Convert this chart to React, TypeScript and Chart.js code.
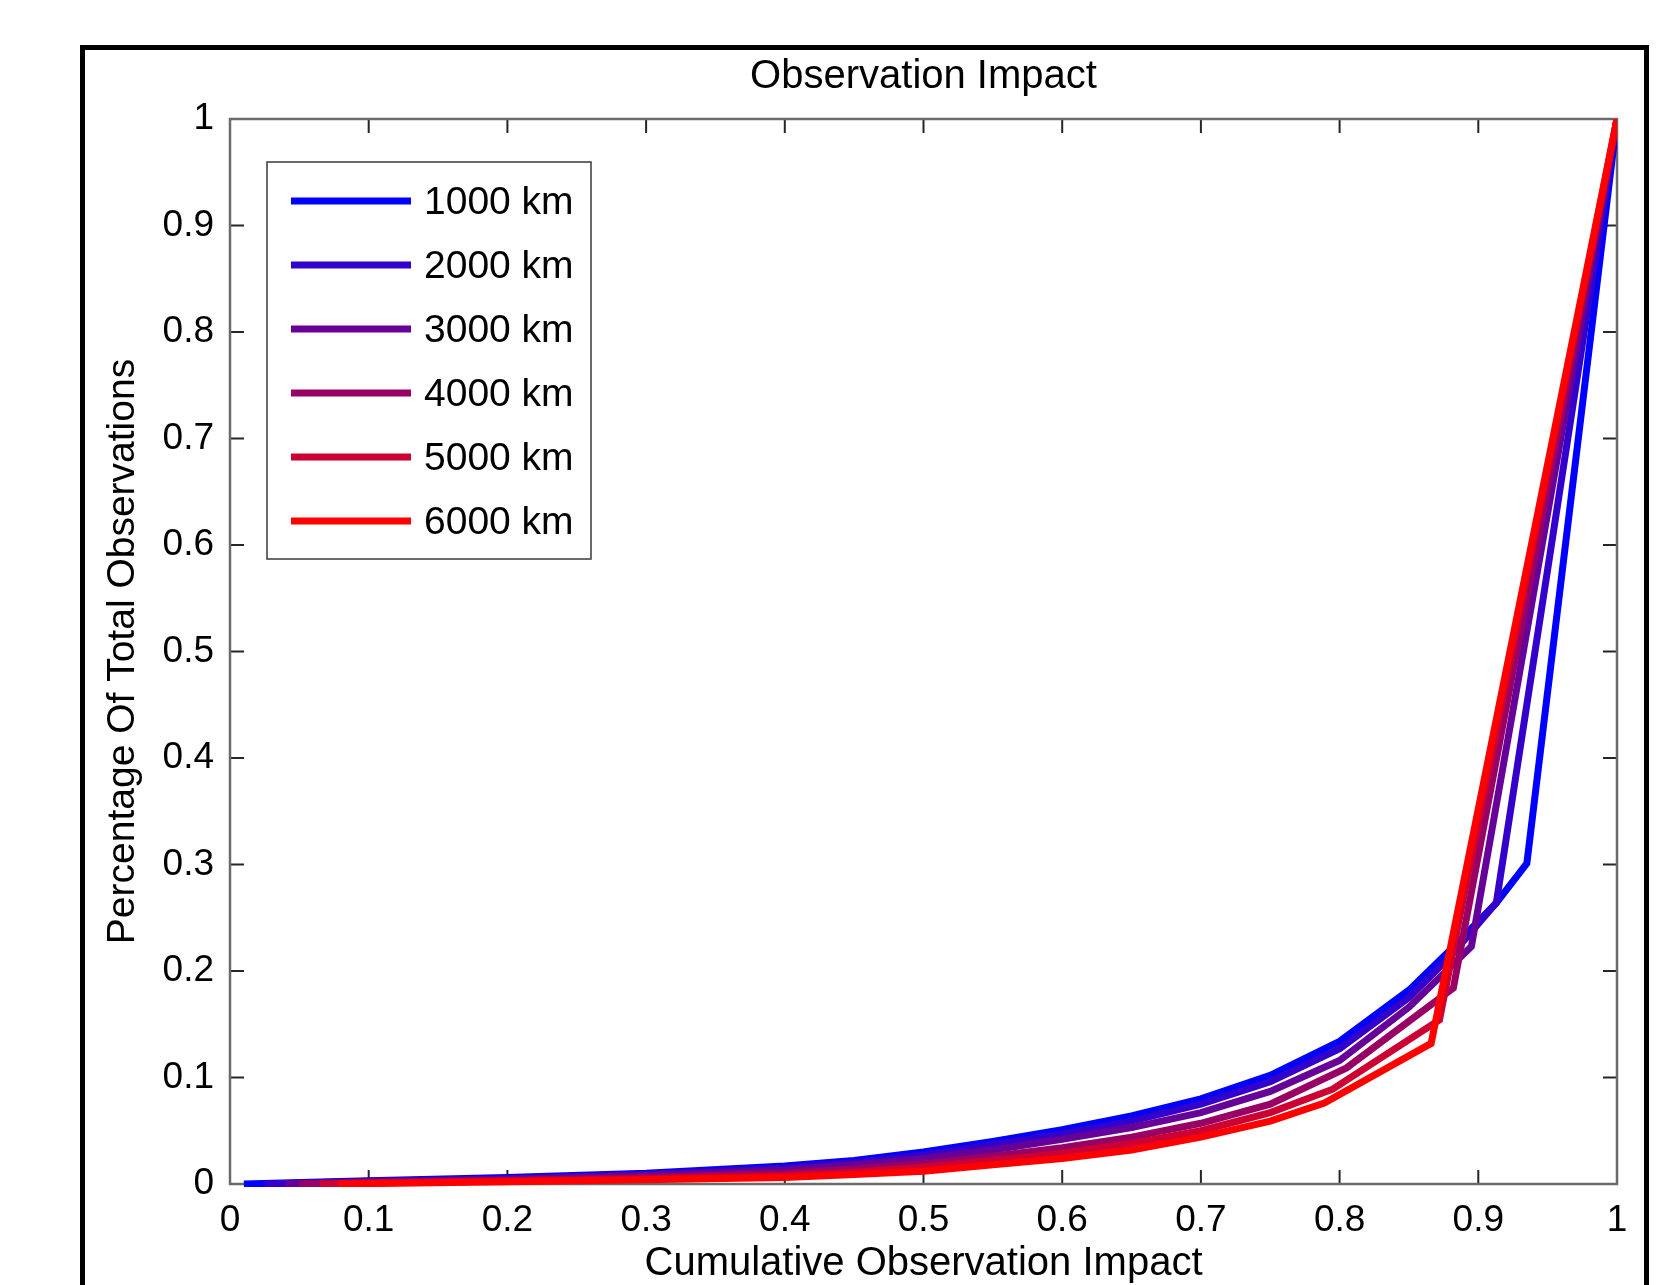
import React, { useEffect, useRef } from 'react';
import { Chart, registerables } from 'chart.js';

Chart.register(...registerables);

const seriesLabels = ['1000 km', '2000 km', '3000 km', '4000 km', '5000 km', '6000 km'];
const seriesColors = ['#0000ff', '#3300cc', '#660099', '#990066', '#cc0033', '#ff0000'];

const x1000 = [0.01, 0.1, 0.2, 0.3, 0.4, 0.45, 0.5, 0.55, 0.6, 0.65, 0.7, 0.75, 0.8, 0.85, 0.88, 0.913, 0.935, 1];
const y1000 = [0, 0.003, 0.006, 0.01, 0.017, 0.022, 0.03, 0.04, 0.051, 0.064, 0.08, 0.102, 0.134, 0.182, 0.22, 0.264, 0.301, 1];

const x2000 = [0.025, 0.1, 0.2, 0.3, 0.4, 0.45, 0.5, 0.55, 0.6, 0.65, 0.7, 0.75, 0.8, 0.85, 0.88, 0.913, 1];
const y2000 = [0, 0.0025, 0.005, 0.009, 0.015, 0.02, 0.027, 0.037, 0.047, 0.059, 0.075, 0.096, 0.127, 0.175, 0.214, 0.264, 1];

const x3000 = [0.04, 0.1, 0.2, 0.3, 0.4, 0.45, 0.5, 0.55, 0.6, 0.65, 0.7, 0.75, 0.8, 0.85, 0.895, 1];
const y3000 = [0, 0.002, 0.0045, 0.008, 0.013, 0.018, 0.024, 0.032, 0.042, 0.053, 0.067, 0.087, 0.116, 0.166, 0.223, 1];

const x4000 = [0.05, 0.1, 0.2, 0.3, 0.4, 0.45, 0.5, 0.55, 0.6, 0.65, 0.7, 0.75, 0.805, 0.882, 1];
const y4000 = [0, 0.0015, 0.0035, 0.006, 0.01, 0.014, 0.019, 0.026, 0.034, 0.044, 0.057, 0.075, 0.109, 0.184, 1];

const x5000 = [0.065, 0.1, 0.2, 0.3, 0.4, 0.45, 0.5, 0.55, 0.6, 0.65, 0.7, 0.75, 0.795, 0.872, 1];
const y5000 = [0, 0.001, 0.0028, 0.005, 0.008, 0.011, 0.016, 0.022, 0.029, 0.038, 0.05, 0.067, 0.089, 0.154, 1];

const x6000 = [0.078, 0.2, 0.3, 0.4, 0.45, 0.5, 0.55, 0.6, 0.65, 0.7, 0.75, 0.789, 0.866, 1];
const y6000 = [0, 0.002, 0.004, 0.006, 0.009, 0.012, 0.018, 0.024, 0.032, 0.044, 0.059, 0.076, 0.132, 1];

const seriesX = [x1000, x2000, x3000, x4000, x5000, x6000];
const seriesY = [y1000, y2000, y3000, y4000, y5000, y6000];

const tickValues = [0, 0.1, 0.2, 0.3, 0.4, 0.5, 0.6, 0.7, 0.8, 0.9, 1];
const tickLabels = ['0', '0.1', '0.2', '0.3', '0.4', '0.5', '0.6', '0.7', '0.8', '0.9', '1'];

const chartTitle = 'Observation Impact';
const xTitle = 'Cumulative Observation Impact';
const yTitle = 'Percentage Of Total Observations';

const FONT = '"Liberation Sans", Arial, Helvetica, sans-serif';

const frameTicksPlugin = {
  id: 'frameTicks',
  beforeDatasetsDraw(chart: any) {
    const { ctx, chartArea: a, scales } = chart;
    const xs = scales.x;
    const ys = scales.y;
    const len = 14;
    ctx.save();
    ctx.strokeStyle = '#262626';
    ctx.lineWidth = 2;
    ctx.beginPath();
    for (const v of tickValues) {
      const px = xs.getPixelForValue(v);
      ctx.moveTo(px, a.bottom);
      ctx.lineTo(px, a.bottom - len);
      ctx.moveTo(px, a.top);
      ctx.lineTo(px, a.top + len);
      const py = ys.getPixelForValue(v);
      ctx.moveTo(a.left, py);
      ctx.lineTo(a.left + len, py);
      ctx.moveTo(a.right, py);
      ctx.lineTo(a.right - len, py);
    }
    ctx.stroke();
    ctx.strokeStyle = '#6b6b6b';
    ctx.lineWidth = 2.5;
    ctx.strokeRect(a.left, a.top, a.right - a.left, a.bottom - a.top);
    ctx.restore();
  },
  afterDraw(chart: any) {
    const { ctx, chartArea: a } = chart;
    ctx.save();
    ctx.font = `40px ${FONT}`;
    ctx.fillStyle = '#000';
    ctx.textAlign = 'center';
    ctx.textBaseline = 'middle';
    ctx.fillText(chartTitle, (a.left + a.right) / 2, 77);
    ctx.restore();
  },
};

const boxLegendPlugin = {
  id: 'boxLegend',
  afterDatasetsDraw(chart: any) {
    const { ctx, chartArea: a } = chart;
    const left = a.left + 37;
    const top = a.top + 43;
    const w = 324;
    const h = 397;
    ctx.save();
    ctx.fillStyle = '#ffffff';
    ctx.fillRect(left, top, w, h);
    ctx.strokeStyle = '#3a3a3a';
    ctx.lineWidth = 1.5;
    ctx.strokeRect(left, top, w, h);
    ctx.font = `39px ${FONT}`;
    ctx.textBaseline = 'middle';
    ctx.textAlign = 'left';
    chart.data.datasets.forEach((ds: any, i: number) => {
      const y = top + 39 + i * 64;
      ctx.strokeStyle = ds.borderColor;
      ctx.lineWidth = 7;
      ctx.lineCap = 'butt';
      ctx.beginPath();
      ctx.moveTo(left + 24, y);
      ctx.lineTo(left + 144, y);
      ctx.stroke();
      ctx.fillStyle = '#000';
      ctx.fillText(ds.label, left + 157, y + 2);
    });
    ctx.restore();
  },
};

export default function App() {
  const ref = useRef<HTMLCanvasElement | null>(null);

  useEffect(() => {
    if (!ref.current) return;
    const datasets = seriesLabels.map((label, i) => ({
      label,
      data: seriesX[i].map((x, j) => ({ x, y: seriesY[i][j] })),
      borderColor: seriesColors[i],
      backgroundColor: seriesColors[i],
      borderWidth: 7,
      pointRadius: 0,
      tension: 0,
      fill: false,
      borderJoinStyle: 'miter' as const,
      clip: { left: 0, top: 0, right: 0, bottom: 3 },
      order: seriesLabels.length - i,
    }));

    const chart = new Chart(ref.current, {
      type: 'line',
      data: { datasets },
      plugins: [frameTicksPlugin, boxLegendPlugin],
      options: {
        animation: false,
        responsive: false,
        devicePixelRatio: 1,
        parsing: false,
        layout: { padding: { left: 0, right: 63, top: 119, bottom: 0 } },
        plugins: {
          legend: { display: false },
          tooltip: { enabled: false },
          title: { display: false },
        },
        scales: {
          x: {
            type: 'linear',
            min: 0,
            max: 1,
            grid: { display: false },
            border: { display: false },
            afterFit: (s: any) => {
              s.height = 101;
            },
            afterBuildTicks: (s: any) => {
              s.ticks = tickValues.map((v) => ({ value: v }));
            },
            ticks: {
              autoSkip: false,
              maxRotation: 0,
              padding: 7,
              color: '#000',
              font: { family: FONT, size: 37, lineHeight: 1.2 },
              callback: (_v: any, idx: number) => tickLabels[idx],
            },
            title: {
              display: true,
              text: xTitle,
              color: '#000',
              font: { family: FONT, size: 40, lineHeight: 1 },
              padding: { top: 0, bottom: 1 },
            },
          },
          y: {
            type: 'linear',
            min: 0,
            max: 1,
            grid: { display: false },
            border: { display: false },
            afterFit: (s: any) => {
              s.width = 230;
            },
            afterBuildTicks: (s: any) => {
              s.ticks = tickValues.map((v) => ({ value: v }));
            },
            ticks: {
              autoSkip: false,
              padding: 8,
              color: '#000',
              font: { family: FONT, size: 37, lineHeight: 1.2 },
              callback: (_v: any, idx: number) => tickLabels[idx],
            },
            title: {
              display: true,
              text: yTitle,
              color: '#000',
              font: { family: FONT, size: 39, lineHeight: 1 },
              padding: { top: 104, bottom: 0 },
            },
          },
        },
      },
    } as any);
    return () => chart.destroy();
  }, []);

  return (
    <div
      style={{
        position: 'absolute',
        left: 0,
        top: 0,
        width: 1680,
        height: 1285,
        overflow: 'hidden',
        background: '#fff',
      }}
    >
      <div
        style={{
          position: 'absolute',
          left: 80,
          top: 45,
          width: 1569,
          height: 1400,
          border: '5px solid #000',
          boxSizing: 'border-box',
        }}
      />
      <canvas
        ref={ref}
        width={1680}
        height={1285}
        style={{ position: 'absolute', left: 0, top: 0, width: 1680, height: 1285 }}
      />
    </div>
  );
}
